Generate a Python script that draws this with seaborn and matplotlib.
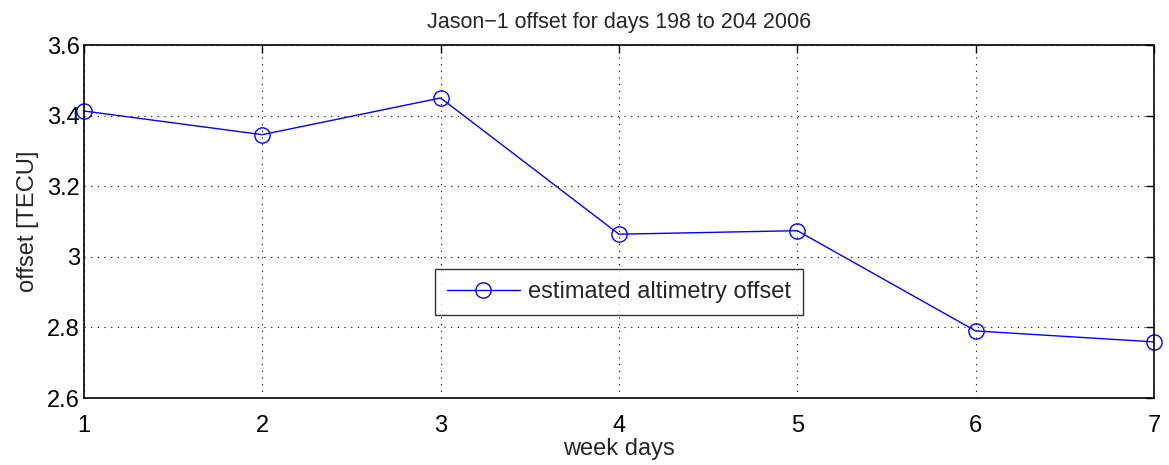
import pandas as pd
import seaborn as sns
import matplotlib.pyplot as plt

# week days and the estimated offsets
week_days = [1, 2, 3, 4, 5, 6, 7]
offset_tecu = [3.413, 3.346, 3.450, 3.064, 3.074, 2.790, 2.759]
series_label = "estimated altimetry offset"

sns.set_theme(style="white")
plt.rcParams['font.family'] = ['Liberation Sans', 'DejaVu Sans']

df = pd.DataFrame({"day": week_days, "offset": offset_tecu})

fig = plt.figure(figsize=(11.69, 4.65), dpi=100)
ax = fig.add_axes([84 / 1169, 1 - 398 / 465, 1070 / 1169, 353 / 465])

sns.lineplot(x="day", y="offset", data=df, ax=ax, color="#0000ff",
             marker="o", markersize=11, markerfacecolor="none",
             markeredgecolor="#0000ff", markeredgewidth=1.0, linewidth=1.0,
             label=series_label, clip_on=False)

ax.set_xlim(1, 7)
ax.set_ylim(2.6, 3.6)
ax.set_xticks(week_days)
ax.set_yticks([2.6, 2.8, 3.0, 3.2, 3.4, 3.6])
ax.set_yticklabels(["2.6", "2.8", "3", "3.2", "3.4", "3.6"])
ax.grid(True, color="black", linestyle=(0, (1, 5)), linewidth=0.8)
ax.tick_params(direction="in", length=6, width=1, top=True, right=True,
               labelsize=17, colors="black")
ax.tick_params(axis="x", pad=12)
ax.tick_params(axis="y", pad=3)
for sp in ax.spines.values():
    sp.set_color("black")
    sp.set_linewidth(1.2)

ax.set_title("Jason\u22121 offset for days 198 to 204 2006", fontsize=15.5, pad=12)
ax.set_xlabel("week days", fontsize=17, labelpad=1)
ax.set_ylabel("offset [TECU]", fontsize=17, labelpad=6)

leg = ax.legend(loc="center", bbox_to_anchor=(0.5, 0.3), fontsize=17,
                frameon=True, fancybox=False, handlelength=3.1,
                borderpad=0.5, handletextpad=0.35, borderaxespad=0)
leg.get_frame().set_edgecolor("black")
leg.get_frame().set_linewidth(1.0)

fig.savefig("out.png", dpi=100)
